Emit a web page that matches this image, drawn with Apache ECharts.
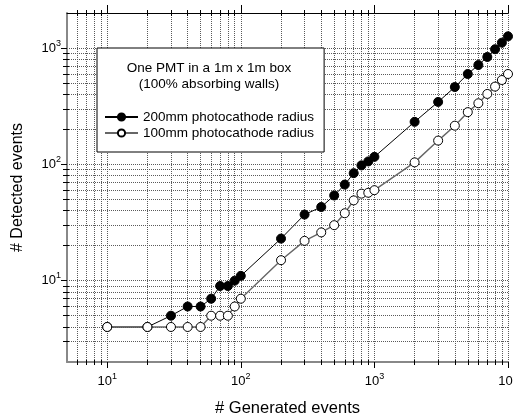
<!DOCTYPE html>
<html>
<head>
<meta charset="utf-8">
<script src="https://cdn.jsdelivr.net/npm/echarts@6/dist/echarts.min.js"></script>
<style>
html,body{margin:0;padding:0;background:#fff;}
#c{width:513px;height:418px;}
</style>
</head>
<body>
<div id="c"></div>
<script>
// Data
const generated = [10,20,30,40,50,60,70,80,90,100,200,300,400,500,600,700,800,900,1000,2000,3000,4000,5000,6000,7000,8000,9000,10000];
const detected200 = [4,4,5,6,6,7,9,9,10,11,23,37,43,54,67,84,98,106,116,232,344,462,598,714,838,976,1112,1260];
const detected100 = [4,4,4,4,4,5,5,5,6,7,15,22,26,30,38,49,56,57,60,104,160,215,281,335,403,466,531,598];
const seriesNames = ['200mm photocathode radius','100mm photocathode radius'];
const boxTitle = ['One PMT in a 1m x 1m box','(100% absorbing walls)'];
const xMajor = [10,100,1000,10000];
const xMinor = [6,7,8,9,20,30,40,50,60,70,80,90,200,300,400,500,600,700,800,900,2000,3000,4000,5000,6000,7000,8000,9000];
const yMajor = [10,100,1000];
const yMinor = [3,4,5,6,7,8,9,20,30,40,50,60,70,80,90,200,300,400,500,600,700,800,900];

const FONT = 'Liberation Sans, Arial, Helvetica, sans-serif';
const dotted = {type:'dotted', color:'#5a5a5a', width:1};
const fmt = v => '{b|10}{s|' + Math.round(Math.log10(v)) + '}';
const rich = {
  b:{fontSize:13, color:'#000', fontFamily:FONT},
  s:{fontSize:9, color:'#000', fontFamily:FONT, padding:[0,0,10,0]}
};
function logAxis(min, max, extra){
  return Object.assign({
    type:'log', logBase:10, min:min, max:max,
    axisLine:{show:false, onZero:false},
    axisTick:{show:false},
    axisLabel:{show:false},
    splitLine:{show:false},
    minorTick:{show:false},
    minorSplitLine:{show:false}
  }, extra);
}

const chart = echarts.init(document.getElementById('c'), null, {renderer:'canvas'});
chart.setOption({
  animation:false,
  backgroundColor:'#fff',
  grid:{left:67, top:13, right:5, bottom:56, containLabel:false, outerBoundsMode:'none'},
  xAxis:[
    logAxis(5, 10000, {
      position:'bottom',
      name:'# Generated events', nameLocation:'middle', nameGap:38,
      nameTextStyle:{fontSize:16.5, color:'#000', fontFamily:FONT},
      axisLine:{show:true, onZero:false, lineStyle:{color:'#888', width:2}},
      axisTick:{show:true, customValues:xMajor, length:6, lineStyle:{color:'#000', width:1}},
      axisLabel:{show:true, customValues:xMajor, formatter:fmt, rich:rich, margin:10, hideOverlap:false},
      splitLine:{show:true, lineStyle:dotted}
    }),
    logAxis(5, 10000, {
      position:'bottom', offset:-2,
      axisTick:{show:true, customValues:xMinor, length:5, lineStyle:{color:'#000', width:1}},
      splitLine:{show:true, lineStyle:dotted}
    }),
    logAxis(5, 10000, {
      position:'top',
      axisLine:{show:true, onZero:false, lineStyle:{color:'#000', width:1}},
      axisTick:{show:true, customValues:xMajor, length:8, lineStyle:{color:'#000', width:1}}
    }),
    logAxis(5, 10000, {
      position:'top', offset:-3,
      axisTick:{show:true, customValues:xMinor, length:6, lineStyle:{color:'#000', width:1}}
    })
  ],
  yAxis:[
    logAxis(2, 2000, {
      position:'left',
      name:'# Detected events', nameLocation:'middle', nameGap:41,
      nameTextStyle:{fontSize:16, color:'#000', fontFamily:FONT},
      axisLine:{show:true, onZero:false, lineStyle:{color:'#888', width:2}},
      axisTick:{show:true, customValues:yMajor, length:6, lineStyle:{color:'#000', width:1}},
      axisLabel:{show:true, customValues:yMajor, formatter:fmt, rich:rich, margin:6},
      splitLine:{show:true, lineStyle:dotted}
    }),
    logAxis(2, 2000, {
      position:'left', offset:-2,
      axisTick:{show:true, customValues:yMinor, length:6, lineStyle:{color:'#000', width:1}},
      splitLine:{show:true, lineStyle:dotted}
    })
  ],
  legend:{
    data:seriesNames,
    orient:'vertical',
    left:97, top:48,
    padding:[61,10,11,7],
    itemWidth:33, itemHeight:9, itemGap:0,
    backgroundColor:'#fff', borderColor:'#000', borderWidth:1,
    textStyle:{fontSize:13.5, color:'#000', fontFamily:FONT, lineHeight:16},
    z:10
  },
  graphic:[
    {type:'text', x:209, y:68, z:100, style:{text:boxTitle[0], fill:'#000', font:'13.5px '+FONT, align:'center', verticalAlign:'middle'}},
    {type:'text', x:209, y:84, z:100, style:{text:boxTitle[1], fill:'#000', font:'13.5px '+FONT, align:'center', verticalAlign:'middle'}}
  ],
  series:[
    {
      name:seriesNames[0], type:'line', xAxisIndex:0, yAxisIndex:0,
      data:generated.map((x,i)=>[x, detected200[i]]),
      symbol:'circle', symbolSize:9,
      lineStyle:{color:'#000', width:1},
      itemStyle:{color:'#000', borderColor:'#000', borderWidth:1},
      emphasis:{disabled:true}
    },
    {
      name:seriesNames[1], type:'line', xAxisIndex:0, yAxisIndex:0,
      data:generated.map((x,i)=>[x, detected100[i]]),
      symbol:'circle', symbolSize:9,
      lineStyle:{color:'#666', width:1.4},
      itemStyle:{color:'#fff', borderColor:'#000', borderWidth:1},
      emphasis:{disabled:true}
    }
  ]
});
</script>
</body>
</html>
